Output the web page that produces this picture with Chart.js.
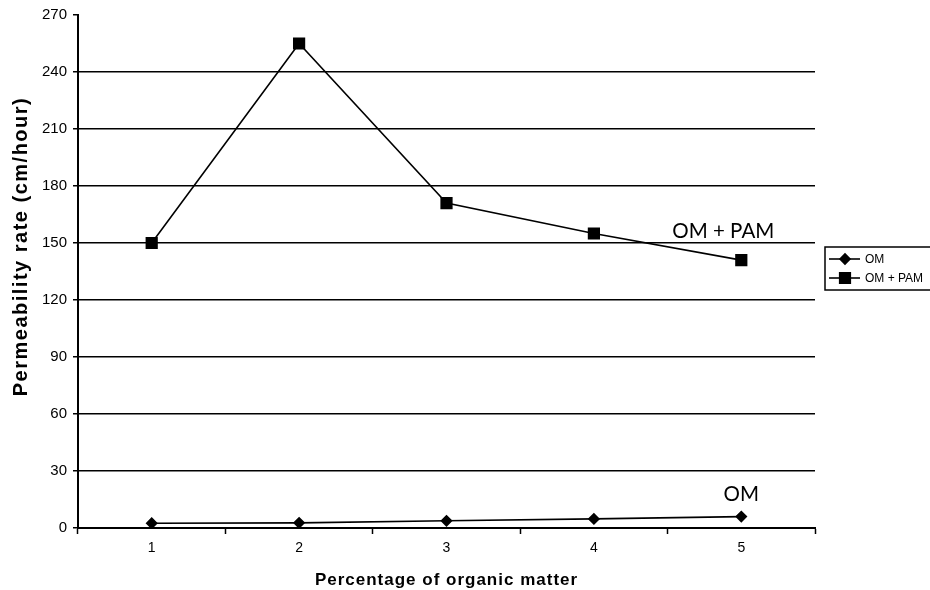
<!DOCTYPE html>
<html>
<head>
<meta charset="utf-8">
<script src="https://cdn.jsdelivr.net/npm/chart.js@4"></script>
<style>
html,body{margin:0;padding:0;background:#fff;}
#wrap{width:930px;height:590px;position:relative;}
</style>
</head>
<body>
<div id="wrap"><canvas id="c" width="930" height="590"></canvas></div>
<script>
const categories = ['1', '2', '3', '4', '5'];
const omValues = [2.5, 2.7, 3.8, 4.8, 6.0];
const omPamValues = [150, 255, 171, 155, 141];
const seriesNames = ['OM', 'OM + PAM'];
const yTicks = [0, 30, 60, 90, 120, 150, 180, 210, 240, 270];
const xTitle = 'Percentage of organic matter';
const yTitle = 'Permeability rate (cm/hour)';

const FONT = "'Liberation Sans', Arial, sans-serif";

const annotationPlugin = {
  id: 'annot',
  afterDatasetsDraw(chart) {
    const ctx = chart.ctx;
    const xs = chart.scales.x, ys = chart.scales.y;
    ctx.save();
    ctx.fillStyle = '#000';
    ctx.font = "20.5px Lato, 'Open Sans', sans-serif";
    ctx.textAlign = 'center';
    ctx.textBaseline = 'alphabetic';
    ctx.fillText(seriesNames[1], xs.getPixelForValue(4) - 18, ys.getPixelForValue(omPamValues[4]) - 22);
    ctx.fillText(seriesNames[0], xs.getPixelForValue(4) - 0, ys.getPixelForValue(omValues[4]) - 16);
    ctx.restore();
  },
  afterDraw(chart) {
    const ctx = chart.ctx;
    const area = chart.chartArea;
    ctx.save();
    ctx.fillStyle = '#000';
    // axis titles
    ctx.textAlign = 'center';
    ctx.textBaseline = 'alphabetic';
    ctx.font = "bold 17px " + FONT;
    ctx.letterSpacing = '1px';
    ctx.fillText(xTitle, (area.left + area.right) / 2, 585);
    ctx.save();
    ctx.translate(27, (area.top + area.bottom) / 2 - 25);
    ctx.rotate(-Math.PI / 2);
    ctx.font = "bold 20px " + FONT;
    ctx.letterSpacing = '1.5px';
    ctx.fillText(yTitle, 0, 0);
    ctx.restore();
    ctx.letterSpacing = '0px';
    // legend
    const bx = 825, by = 247, bw = 110, bh = 43;
    ctx.strokeStyle = '#000';
    ctx.lineWidth = 1.5;
    ctx.strokeRect(bx, by, bw, bh);
    ctx.font = "12px " + FONT;
    ctx.textAlign = 'left';
    ctx.textBaseline = 'middle';
    chart.data.datasets.forEach((ds, i) => {
      const y = by + 12 + i * 19;
      ctx.beginPath();
      ctx.moveTo(bx + 4, y);
      ctx.lineTo(bx + 35, y);
      ctx.lineWidth = 1.6;
      ctx.stroke();
      Chart.helpers.drawPoint(ctx, {pointStyle: ds.pointStyle, rotation: 0, radius: i === 0 ? 5 : 7.5, borderWidth: 1}, bx + 20, y);
      ctx.fill();
      ctx.fillText(ds.label, bx + 40, y + 1);
    });
    ctx.restore();
  }
};

new Chart(document.getElementById('c'), {
  type: 'line',
  data: {
    labels: categories,
    datasets: [
      {label: seriesNames[0], data: omValues, borderColor: '#000', backgroundColor: '#000', borderWidth: 1.6,
       pointStyle: 'rectRot', pointRadius: 5, pointHoverRadius: 5, fill: false, tension: 0},
      {label: seriesNames[1], data: omPamValues, borderColor: '#000', backgroundColor: '#000', borderWidth: 1.6,
       pointStyle: 'rect', pointRadius: 7.5, pointHoverRadius: 7.5, fill: false, tension: 0}
    ]
  },
  options: {
    responsive: false,
    animation: false,
    devicePixelRatio: 1,
    layout: {padding: {left: 0, right: 115, top: 8, bottom: 0}},
    plugins: {legend: {display: false}, tooltip: {enabled: false}},
    scales: {
      x: {
        type: 'category',
        offset: true,
        grid: {drawOnChartArea: false, tickLength: 6, tickColor: '#000', tickWidth: 1.5, offset: true},
        border: {color: '#000', width: 2},
        ticks: {color: '#000', font: {family: FONT, size: 14}, padding: 6},
        title: {display: false, text: xTitle},
        afterFit(axis) { axis.height = 62; }
      },
      y: {
        min: 0, max: 270,
        afterBuildTicks(axis) { axis.ticks = yTicks.map(v => ({value: v})); },
        grid: {
          color: ctx => (ctx.tick && (ctx.tick.value === 270 || ctx.tick.value === 0)) ? 'rgba(0,0,0,0)' : '#000',
          lineWidth: 1.5,
          tickLength: 5, tickColor: '#000', tickWidth: 1.5
        },
        border: {color: '#000', width: 2},
        ticks: {color: '#000', font: {family: FONT, size: 15}, padding: 6},
        title: {display: false, text: yTitle},
        afterFit(axis) { axis.width = 78; }
      }
    }
  },
  plugins: [annotationPlugin]
});
</script>
</body>
</html>
